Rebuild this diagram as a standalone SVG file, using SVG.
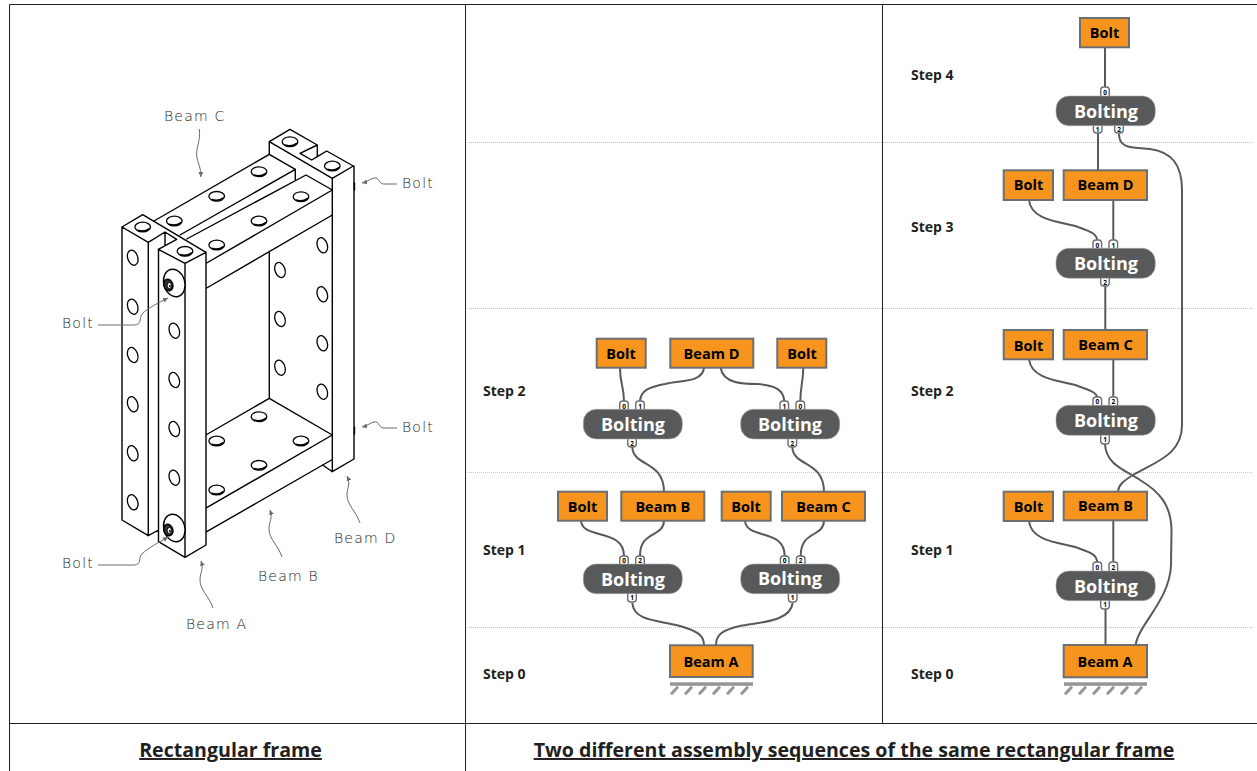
<svg xmlns="http://www.w3.org/2000/svg" xmlns:xlink="http://www.w3.org/1999/xlink" width="1257" height="771" viewBox="0 0 1257 771">
<style>
text{font-family:"Open Sans","Noto Sans","Liberation Sans",sans-serif}
.frame{stroke:#231f20;stroke-width:1;fill:none}
.dot{stroke:#c4c4c4;stroke-width:1;stroke-dasharray:1 1;fill:none}
.sw{stroke:#000;stroke-width:1.4;fill:none;stroke-linejoin:round;stroke-linecap:round}
.lead{stroke:#6a6a6a;stroke-width:1;fill:none;marker-end:url(#ah)}
.hand{font-family:"DejaVu Sans",sans-serif;font-weight:200;font-size:14px;fill:#222;letter-spacing:1.200px}
.step{font-weight:700;font-size:14px;fill:#231f20}
.box{fill:#f7941d;stroke:#6d6e71;stroke-width:2}
.lbl{font-weight:700;font-size:14.500px;fill:#000;text-anchor:middle}
.pill{fill:#58595b;stroke:#a9aaac;stroke-width:.6}
.plbl{font-weight:700;font-size:18px;fill:#fff;text-anchor:middle}
.port{fill:#fff;stroke:#6d6e71;stroke-width:1.4}
.pn{font-weight:700;font-size:6.500px;fill:#000;text-anchor:middle}
.conn{stroke:#58595b;stroke-width:2;fill:none}
.gb{fill:#939598}
.gh{stroke:#939598;stroke-width:3;fill:none}
.head{font-weight:700;font-size:19.600px;fill:#231f20;text-anchor:middle;text-decoration:underline}
</style>
<defs>
<marker id="ah" markerWidth="6" markerHeight="6" refX="5" refY="3" orient="auto" markerUnits="userSpaceOnUse"><path d="M0 .5L5 3L0 5.5z" fill="#6a6a6a"/></marker>
<g id="ht"><ellipse rx="7.800" ry="4.800" fill="#fff" stroke="#000" stroke-width="1.300"/><path d="M-5 3.200Q1 5.600 7 1.400" stroke="#000" stroke-width="1.600" fill="none"/></g>
<g id="hs"><ellipse rx="5" ry="7.800" transform="rotate(-18)" fill="#fff" stroke="#000" stroke-width="1.300"/></g>
<g id="gnd"><rect class="gb" x="0" y="0" width="83" height="3.500"/><path class="gh" d="M8 4.500L1 12M22 4.500L15 12M36 4.500L29 12M50 4.500L43 12M64 4.500L57 12M78 4.500L71 12"/></g>
<g id="bolthead"><ellipse cx="6" cy="-2" rx="10.500" ry="14" transform="rotate(-16 6 -2)" fill="#fff" stroke="#000" stroke-width="1.400"/><ellipse rx="4.500" ry="5.800" transform="rotate(-18)" fill="#333" stroke="#000" stroke-width="1.500"/><ellipse cx="1" cy=".5" rx="2.200" ry="3" fill="#fff" stroke="#000" stroke-width="1"/><circle cx="1.500" cy="1" r="1" fill="#000"/></g>
</defs>
<rect width="1257" height="771" fill="#fff"/>
<g id="grid">
<path class="dot" d="M465 142.500H1253M465 308.500H1253M465 472.500H1253M465 627.500H1253"/>
<path class="frame" d="M9.500 4.500H1257M9.500 4.500V771M465.500 4.500V771M882.500 4.500V723M9.500 723.500H1257"/>
</g>
<g id="frame-drawing">
<path class="sw" d="M122 227L142.700 214.700L206 252.300M122 227L148.300 242.300L165 232L176.700 239.300L158.300 249.300L185 263.300L206 252.300M165 232V245M122 227V520L148.300 535.700L158.500 530M148.300 242.300V535.700M158.500 249.300V541.700L185 557.300L206 545V252.300M185 263.300V557.300"/>
<path class="sw" d="M154 221L269.300 154.300M180 235L295.300 169.300V180M186.700 239L306 175L332.300 190M206.700 263L332.300 190M206.700 288L332.300 215M269.300 154.300L295.300 169.300"/>
<path class="sw" d="M269.300 154.300V141.700L290 129.300L317.300 145V156.700L326.700 151L353.300 166L332.300 178.300L269.300 141.700M300 153.300L317.300 145M300 153.300L311.700 160L317.300 156.700M332.300 178.300V471.700L354 459V166M322.700 465L332.300 471.700"/>
<path class="sw" d="M269.300 252.300V398.300L332.300 435M269.300 398.300L206.700 434.500M332.300 435L206.700 507.700M332.300 459.500L206.700 531.700"/>
<path class="sw" d="M354.500 183V190M354.500 427V434"/>
<use href="#ht" x="142.700" y="227"/><use href="#ht" x="185" y="251.300"/><use href="#ht" x="174.300" y="221"/><use href="#ht" x="216.700" y="196.300"/><use href="#ht" x="216.700" y="245"/><use href="#ht" x="290" y="141.700"/><use href="#ht" x="332.300" y="166"/><use href="#ht" x="259" y="171.700"/><use href="#ht" x="301" y="196.700"/><use href="#ht" x="259" y="221"/><use href="#ht" x="259" y="416.700"/><use href="#ht" x="301" y="441"/><use href="#ht" x="259" y="465.300"/><use href="#ht" x="216.700" y="441"/><use href="#ht" x="216.700" y="490"/>
<use href="#hs" x="132.700" y="257.700"/><use href="#hs" x="132.700" y="306.700"/><use href="#hs" x="132.700" y="355"/><use href="#hs" x="132.700" y="404.300"/><use href="#hs" x="132.700" y="453.300"/><use href="#hs" x="132.700" y="502.300"/>
<use href="#hs" x="174.300" y="330.700"/><use href="#hs" x="174.300" y="380"/><use href="#hs" x="174.300" y="429"/><use href="#hs" x="174.300" y="477.700"/>
<use href="#hs" x="280" y="270"/><use href="#hs" x="322.300" y="245.300"/><use href="#hs" x="322.300" y="294.300"/><use href="#hs" x="280" y="319"/><use href="#hs" x="322.300" y="343.300"/><use href="#hs" x="280" y="367.700"/><use href="#hs" x="322.300" y="391.700"/>
<use href="#bolthead" x="168.300" y="285"/><use href="#bolthead" x="168.300" y="530"/>
<path class="lead" d="M199.300 129C201 142 195 148 197 158C199 166 201 168 200.700 177"/>
<path class="lead" d="M98 325H134C142 325 139 318 142 314C148 308 158 303 168 298"/>
<path class="lead" d="M98 565H134C142 565 138 558 142 554C148 548 158 543 168 537"/>
<path class="lead" d="M397 184H384C378 184 380 177 374 178C370 179 367 182 362 183"/>
<path class="lead" d="M397 428H384C378 428 380 421 374 422C370 423 367 426 362 427"/>
<path class="lead" d="M213 608C209 596 200 590 200 580C200 572 204 570 201 561"/>
<path class="lead" d="M282 557C278 545 269 539 269 529C269 521 273 519 270 510"/>
<path class="lead" d="M360 523C356 511 347 505 347 495C347 487 351 485 347 476"/>
<text class="hand" x="164" y="121">Beam C</text>
<text class="hand" x="62" y="328">Bolt</text>
<text class="hand" x="62" y="568">Bolt</text>
<text class="hand" x="402" y="188">Bolt</text>
<text class="hand" x="402" y="432">Bolt</text>
<text class="hand" x="186" y="629">Beam A</text>
<text class="hand" x="258" y="581">Beam B</text>
<text class="hand" x="334" y="543">Beam D</text>
</g>
<g id="steps">
<text class="step" x="483" y="396">Step 2</text><text class="step" x="483" y="555">Step 1</text><text class="step" x="483" y="679">Step 0</text>
<text class="step" x="911" y="80">Step 4</text><text class="step" x="911" y="232">Step 3</text><text class="step" x="911" y="396">Step 2</text><text class="step" x="911" y="555">Step 1</text><text class="step" x="911" y="679">Step 0</text>
</g>
<g id="connectors">
<path class="conn" d="M620 368C620 385 624 385 624 402"/>
<path class="conn" d="M704 368C702 383 680 380 665 384C650 387 640 390 640 402"/>
<path class="conn" d="M720.700 368C723 384 745 384 757 384C775 385 784 390 784.300 402"/>
<path class="conn" d="M803.300 368C803 385 800.300 385 800.300 402"/>
<path class="conn" d="M632.300 447C633 467 664 460 664 492"/>
<path class="conn" d="M792.300 447C793 467 824 460 824 492"/>
<path class="conn" d="M581 521C583 540 624 528 624 556"/>
<path class="conn" d="M664 521C663 538 640 530 640 556"/>
<path class="conn" d="M745 521C747 540 784.700 528 784.700 556"/>
<path class="conn" d="M824 521C823 538 800.700 530 800.700 556"/>
<path class="conn" d="M632.300 603C634 622 660 620 680 626C697 631 704 635 704 645"/>
<path class="conn" d="M792.700 603C790 622 760 622 740 626C722 630 716 635 716 645"/>
<path class="conn" d="M1105 47V88"/>
<path class="conn" d="M1098 133V170"/>
<path class="conn" d="M1119 134C1119 150 1135 147 1150 149C1172 152 1182 165 1182 190V425C1182 455 1155 462 1133 475C1125 480 1119 484 1118 491"/>
<path class="conn" d="M1029 200C1031 222 1065 222 1078 227C1092 232 1097 234 1097.300 241"/>
<path class="conn" d="M1113.300 200V241"/>
<path class="conn" d="M1105.300 286V330"/>
<path class="conn" d="M1029 359C1031 381 1065 381 1078 386C1092 391 1097 393 1097.300 398"/>
<path class="conn" d="M1113.300 359V398"/>
<path class="conn" d="M1105 444C1106 465 1125 470 1140 480C1160 492 1171 505 1171.500 530L1171 565C1170 600 1138 625 1135.700 645"/>
<path class="conn" d="M1029 521C1031 543 1065 543 1078 548C1092 553 1097 555 1097.300 563"/>
<path class="conn" d="M1113.300 520V563"/>
<path class="conn" d="M1105.500 609V645"/>
</g>
<g id="n-m-bolt1"><rect class="box" x="596.700" y="338.700" width="49" height="29"/><text class="lbl" x="621" y="358.500">Bolt</text></g>
<g id="n-m-beamd"><rect class="box" x="670.300" y="338.700" width="83" height="29"/><text class="lbl" x="711.500" y="358.500">Beam D</text></g>
<g id="n-m-bolt2"><rect class="box" x="777.300" y="338.700" width="49" height="29"/><text class="lbl" x="802" y="358.500">Bolt</text></g>
<g id="n-m-bolting1"><rect class="port" x="619.700" y="401" width="8.600" height="14" rx="3"/><rect class="port" x="635.700" y="401" width="8.600" height="14" rx="3"/><rect class="port" x="627.700" y="434" width="8.600" height="13" rx="3"/><text class="pn" x="624" y="408.500">0</text><text class="pn" x="640" y="408.500">1</text><text class="pn" x="632" y="445.500">2</text><rect class="pill" x="583.300" y="409.300" width="99" height="29.700" rx="13"/><text class="plbl" x="633" y="431">Bolting</text></g>
<g id="n-m-bolting2"><rect class="port" x="780" y="401" width="8.600" height="14" rx="3"/><rect class="port" x="796" y="401" width="8.600" height="14" rx="3"/><rect class="port" x="788" y="434" width="8.600" height="13" rx="3"/><text class="pn" x="784.300" y="408.500">1</text><text class="pn" x="800.300" y="408.500">0</text><text class="pn" x="792.300" y="445.500">2</text><rect class="pill" x="740.700" y="409.300" width="99" height="29.700" rx="13"/><text class="plbl" x="790" y="431">Bolting</text></g>
<g id="n-m-bolt3"><rect class="box" x="558" y="491.700" width="49" height="29"/><text class="lbl" x="582.500" y="511.500">Bolt</text></g>
<g id="n-m-beamb"><rect class="box" x="621.300" y="491.700" width="83" height="29"/><text class="lbl" x="662.800" y="511.500">Beam B</text></g>
<g id="n-m-bolt4"><rect class="box" x="721.700" y="491.700" width="49" height="29"/><text class="lbl" x="746" y="511.500">Bolt</text></g>
<g id="n-m-beamc"><rect class="box" x="782" y="491.700" width="83" height="29"/><text class="lbl" x="823.500" y="511.500">Beam C</text></g>
<g id="n-m-bolting3"><rect class="port" x="619.700" y="556" width="8.600" height="14" rx="3"/><rect class="port" x="635.700" y="556" width="8.600" height="14" rx="3"/><rect class="port" x="627.700" y="589" width="8.600" height="13" rx="3"/><text class="pn" x="624" y="563">0</text><text class="pn" x="640" y="563">2</text><text class="pn" x="632" y="600">1</text><rect class="pill" x="583.300" y="564" width="99" height="29.700" rx="13"/><text class="plbl" x="633" y="586">Bolting</text></g>
<g id="n-m-bolting4"><rect class="port" x="780.400" y="556" width="8.600" height="14" rx="3"/><rect class="port" x="796.400" y="556" width="8.600" height="14" rx="3"/><rect class="port" x="788.400" y="589" width="8.600" height="13" rx="3"/><text class="pn" x="784.700" y="563">0</text><text class="pn" x="800.700" y="563">2</text><text class="pn" x="792.700" y="600">1</text><rect class="pill" x="740.700" y="564" width="99" height="29.700" rx="13"/><text class="plbl" x="790" y="585">Bolting</text></g>
<g id="n-m-beama"><rect class="box" x="670" y="645.300" width="82.700" height="31.700"/><text class="lbl" x="711" y="666.500">Beam A</text><use href="#gnd" x="670" y="682.300"/></g>
<g id="n-r-bolt1"><rect class="box" x="1080" y="18" width="49" height="29.300"/><text class="lbl" x="1104.500" y="37.500">Bolt</text></g>
<g id="n-r-bolting1"><rect class="port" x="1100.700" y="87" width="8.600" height="14" rx="3"/><rect class="port" x="1093.400" y="120" width="8.600" height="13" rx="3"/><rect class="port" x="1114.700" y="120" width="8.600" height="13" rx="3"/><text class="pn" x="1105" y="94.500">0</text><text class="pn" x="1097.700" y="131.500">1</text><text class="pn" x="1119" y="131.500">2</text><rect class="pill" x="1056" y="96" width="99.300" height="29.700" rx="13"/><text class="plbl" x="1106" y="118">Bolting</text></g>
<g id="n-r-bolt2"><rect class="box" x="1003.700" y="170.300" width="49.300" height="29.700"/><text class="lbl" x="1028.500" y="190">Bolt</text></g>
<g id="n-r-beamd"><rect class="box" x="1063.700" y="170.300" width="83.300" height="29.700"/><text class="lbl" x="1105.500" y="190">Beam D</text></g>
<g id="n-r-bolting2"><rect class="port" x="1093" y="240" width="8.600" height="14" rx="3"/><rect class="port" x="1109" y="240" width="8.600" height="14" rx="3"/><rect class="port" x="1100.700" y="273" width="8.600" height="13" rx="3"/><text class="pn" x="1097.300" y="247.500">0</text><text class="pn" x="1113.300" y="247.500">1</text><text class="pn" x="1105" y="284.500">2</text><rect class="pill" x="1056" y="248.300" width="99.300" height="30" rx="13"/><text class="plbl" x="1106" y="270">Bolting</text></g>
<g id="n-r-bolt3"><rect class="box" x="1003.700" y="330" width="49.300" height="29.300"/><text class="lbl" x="1028.500" y="350.500">Bolt</text></g>
<g id="n-r-beamc"><rect class="box" x="1063.700" y="330" width="83.300" height="29.300"/><text class="lbl" x="1105.500" y="349.500">Beam C</text></g>
<g id="n-r-bolting3"><rect class="port" x="1093" y="397" width="8.600" height="14" rx="3"/><rect class="port" x="1109" y="397" width="8.600" height="14" rx="3"/><rect class="port" x="1100.700" y="430" width="8.600" height="14" rx="3"/><text class="pn" x="1097.300" y="404">0</text><text class="pn" x="1113.300" y="404">2</text><text class="pn" x="1105" y="441.500">1</text><rect class="pill" x="1056" y="405.300" width="99.300" height="30" rx="13"/><text class="plbl" x="1106" y="427">Bolting</text></g>
<g id="n-r-bolt4"><rect class="box" x="1003.700" y="491.700" width="49.300" height="29.300"/><text class="lbl" x="1028.500" y="512">Bolt</text></g>
<g id="n-r-beamb"><rect class="box" x="1063.700" y="491.700" width="83.300" height="28.600"/><text class="lbl" x="1105.500" y="511">Beam B</text></g>
<g id="n-r-bolting4"><rect class="port" x="1093" y="562" width="8.600" height="14" rx="3"/><rect class="port" x="1109" y="562" width="8.600" height="14" rx="3"/><rect class="port" x="1100.700" y="596" width="8.600" height="13" rx="3"/><text class="pn" x="1097.300" y="569.500">0</text><text class="pn" x="1113.300" y="569.500">2</text><text class="pn" x="1105" y="607">1</text><rect class="pill" x="1056" y="571" width="99.300" height="29.700" rx="13"/><text class="plbl" x="1106" y="592.500">Bolting</text></g>
<g id="n-r-beama"><rect class="box" x="1063.700" y="645" width="83.300" height="32.300"/><text class="lbl" x="1105" y="666.500">Beam A</text><use href="#gnd" x="1064" y="682.300"/></g>
<g id="captions">
<text class="head" x="230.500" y="757">Rectangular frame</text>
<text class="head" x="854" y="757">Two different assembly sequences of the same rectangular frame</text>
</g>
</svg>
